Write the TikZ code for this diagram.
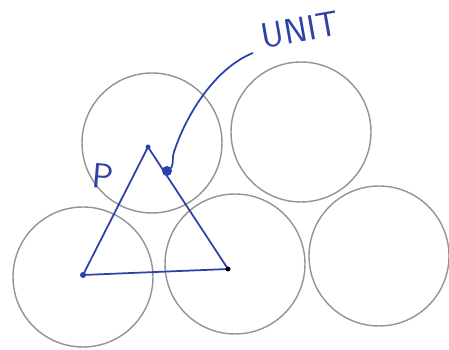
\documentclass[tikz,border=0pt]{standalone}
\usetikzlibrary{positioning}
\definecolor{ink}{RGB}{45,65,170}
\begin{document}
\begin{tikzpicture}[x=0.02cm,y=-0.02cm,
every node/.style={circle,draw=gray!85,line width=0.8pt,minimum size=2.8cm,inner sep=0pt},
lbl/.style={draw=none,rectangle,minimum size=0pt,text=ink,font=\sffamily\fontsize{20}{20}\selectfont}]
\useasboundingbox (0,0) rectangle (449,350);
\node (C1) at (152,143) {};
\node (C2) at (301,132) {};
\node (C3) at (83,277) {};
\node (C4) at (235,264) {};
\node (C5) at (379,256) {};
\coordinate (V1) at (148,147);
\coordinate (V2) at (83,275);
\coordinate (V3) at (228,269);
\coordinate (D) at (167,171);
\coordinate (E) at (253,53);
\node[lbl,rotate=10] (U) at (300,30) {UNIT};
\node[lbl,rotate=-5] (P) at (103,176) {P};
\draw[ink,line width=1pt] (V1)--(V2)--(V3)--cycle;
\draw[ink,line width=1pt] (D) .. controls (176,167) and (171,160) .. (174,152) .. controls (186,115) and (215,68) .. (E);
\fill[ink] (D) circle (5);
\fill[ink] (V1) circle (2.5);
\fill[ink] (V2) circle (3);
\fill[black] (V3) circle (2.5);
\end{tikzpicture}
\end{document}
